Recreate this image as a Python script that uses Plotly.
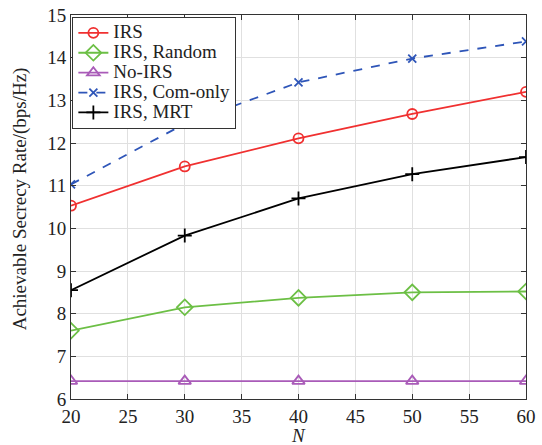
import plotly.graph_objects as go

N = [20, 30, 40, 50, 60]
irs = [10.53, 11.45, 12.11, 12.68, 13.2]
irs_random = [7.6, 8.15, 8.37, 8.5, 8.52]
no_irs = [6.42, 6.42, 6.42, 6.42, 6.42]
irs_com_only = [11.03, 12.45, 13.42, 13.98, 14.38]
irs_mrt = [8.55, 9.83, 10.7, 11.27, 11.67]
names = ["IRS", "IRS, Random", "No-IRS", "IRS, Com-only", "IRS, MRT"]

font = "Times New Roman, Liberation Serif, serif"
fig = go.Figure()
series = [
    (irs, "#F03030", "circle-open", "solid", 10),
    (irs_random, "#6CBF45", "diamond-open", "solid", 12),
    (no_irs, "#A95BB8", "triangle-up-open", "solid", 11),
    (irs_com_only, "#2E55B8", "x-thin-open", "dash", 8),
    (irs_mrt, "#000000", "cross-thin-open", "solid", 10),
]
for name, (y, c, sym, dash, sz) in zip(names, series):
    fig.add_trace(go.Scatter(
        x=N, y=y, name='<span style="font-size:19px">%s</span>' % name,
        mode="lines+markers",
        line=dict(color=c, width=1.8, dash=dash),
        marker=dict(symbol=sym, size=sz, color=c, line=dict(color=c, width=1.8)),
    ))

fig.update_layout(
    width=542, height=445,
    margin=dict(l=71, r=16, t=15, b=46),
    plot_bgcolor="white", paper_bgcolor="white",
    font=dict(family=font, size=19, color="#222"),
    showlegend=True,
    legend=dict(x=0.003, y=0.995, xanchor="left", yanchor="top",
                bgcolor="white", bordercolor="#333", borderwidth=1,
                font=dict(family=font, size=13, color="#222"),
                tracegroupgap=0, itemwidth=30),
    annotations=[
        dict(text="<i>N</i>", xref="paper", yref="paper", x=0.5, y=0,
             xanchor="center", yanchor="top", yshift=-24, showarrow=False,
             font=dict(family=font, size=19, color="#222")),
        dict(text="Achievable Secrecy Rate/(bps/Hz)", xref="paper", yref="paper",
             x=0, y=0.52, xanchor="right", yanchor="middle", xshift=-38,
             textangle=-90, showarrow=False,
             font=dict(family=font, size=19, color="#222")),
    ],
)
fig.update_xaxes(range=[20, 60], tickvals=[20, 25, 30, 35, 40, 45, 50, 55, 60],
                 tickfont=dict(family=font, size=19), automargin=False,
                 showgrid=True, gridcolor="#E0E0E0", zeroline=False,
                 showline=True, linecolor="#333", linewidth=1, mirror="ticks",
                 ticks="inside", ticklen=5, tickcolor="#333")
fig.update_yaxes(range=[6, 15], tickvals=list(range(6, 16)),
                 tickfont=dict(family=font, size=19), automargin=False,
                 showgrid=True, gridcolor="#E0E0E0", zeroline=False,
                 showline=True, linecolor="#333", linewidth=1, mirror="ticks",
                 ticks="inside", ticklen=5, tickcolor="#333")

fig.write_html("out.html")
